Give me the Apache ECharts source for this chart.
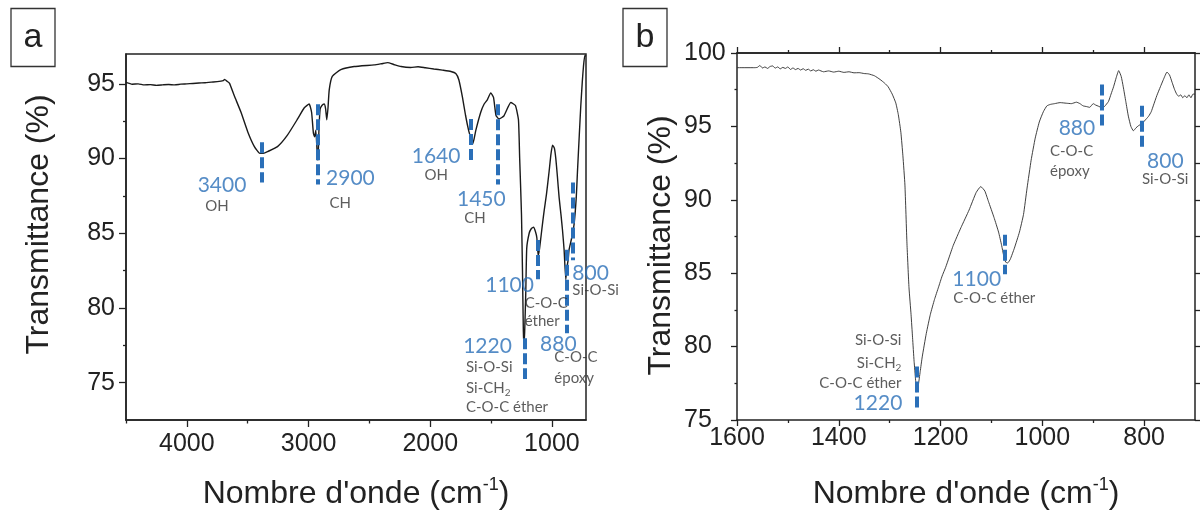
<!DOCTYPE html>
<html>
<head>
<meta charset="utf-8">
<script src="https://cdn.jsdelivr.net/npm/echarts@6.0.0/dist/echarts.min.js"></script>
<style>
html, body { margin: 0; padding: 0; background: #fff; }
#main { width: 1204px; height: 517px; }
</style>
</head>
<body>
<div id="main"></div>
<script>
// spectre a : 4500 - 720 cm-1
const wnA = [4500, 4450, 4400, 4350, 4300, 4250, 4200, 4150, 4100, 4050, 4000, 3950, 3900, 3850, 3800, 3750, 3700, 3690, 3670, 3650,
  3610, 3555, 3500, 3445, 3400, 3370, 3335, 3255, 3175, 3090, 3035, 2995, 2975, 2960, 2950, 2940, 2928, 2922, 2915, 2905,
  2890, 2872, 2860, 2850, 2840, 2830, 2805, 2735, 2625, 2460, 2400, 2350, 2300, 2240, 2160, 2100, 2040, 1970, 1900, 1830,
  1790, 1765, 1735, 1710, 1685, 1665, 1653, 1640, 1625, 1585, 1557, 1530, 1503, 1480, 1460, 1435, 1395, 1338, 1300, 1275,
  1265, 1258, 1250, 1242, 1235, 1230, 1224, 1215, 1207, 1187, 1170, 1151, 1135, 1124, 1113, 1103, 1091, 1075, 1064, 1045,
  1023, 1008, 995, 980, 968, 955, 941, 925, 913, 900, 886, 875, 867, 859, 840, 818, 800, 790, 775, 763,
  750, 741, 730, 720];
const tA = [95.10, 94.98, 95.00, 94.93, 94.95, 94.90, 94.93, 94.96, 94.93, 94.98, 95.00, 95.03, 95.06, 95.08, 95.12, 95.15, 95.22, 95.30, 95.18, 95.05,
  94.20, 93.10, 91.80, 90.80, 90.35, 90.35, 90.47, 90.80, 91.55, 92.65, 93.40, 93.65, 93.10, 91.70, 91.45, 91.90, 90.20, 89.90, 91.80, 93.30,
  93.55, 93.65, 93.35, 92.60, 93.40, 94.60, 95.50, 95.95, 96.16, 96.27, 96.35, 96.42, 96.30, 96.16, 96.10, 96.15, 96.08, 96.00, 95.92, 95.83,
  95.70, 95.28, 94.10, 92.90, 91.90, 91.30, 90.95, 91.30, 91.90, 93.10, 93.65, 93.95, 94.40, 94.10, 92.90, 92.65, 92.85, 93.75, 93.55, 92.60,
  90.00, 88.30, 86.20, 82.50, 78.50, 77.60, 78.40, 81.00, 84.00, 85.00, 85.30, 85.40, 85.10, 84.70, 83.50, 83.90, 84.70, 85.80, 86.50, 87.60,
  89.15, 90.30, 90.90, 90.70, 90.00, 88.80, 87.40, 86.20, 85.20, 83.90, 81.90, 82.80, 83.20, 83.90, 84.60, 85.60, 87.40, 89.15, 91.60, 93.50,
  95.20, 96.15, 96.90, 96.85];

// spectre b : zoom 1600 - 700 cm-1
const wnB = [1600, 1565, 1560, 1555, 1550, 1545, 1540, 1535, 1530, 1525, 1520, 1515, 1510, 1505, 1500, 1495, 1490, 1485, 1480, 1475,
  1470, 1465, 1460, 1455, 1450, 1445, 1440, 1430, 1420, 1410, 1400, 1390, 1380, 1370, 1360, 1350, 1342, 1330, 1319, 1310,
  1303, 1295, 1288, 1283, 1278, 1274, 1270, 1266, 1262, 1258, 1255, 1252, 1249, 1247, 1244, 1240, 1236, 1228, 1220, 1212,
  1204, 1197, 1190, 1183, 1175, 1160, 1144, 1130, 1121, 1113, 1106, 1095, 1086, 1080, 1076, 1072, 1068, 1063, 1055, 1045,
  1037, 1030, 1022, 1014, 1006, 998, 991, 984, 976, 965, 953, 943, 933, 926, 920, 913, 907, 900, 895, 890,
  883, 878, 870, 865, 860, 855, 850, 845, 841, 836, 831, 826, 821, 816, 811, 804, 796, 791, 786, 782,
  775, 768, 762, 755, 750, 745, 740, 736, 732, 728, 724, 720, 716, 712, 708, 704, 700];
const tB = [99.00, 99.00, 99.02, 99.15, 98.98, 99.05, 98.95, 99.08, 99.12, 98.97, 99.05, 98.92, 99.02, 98.95, 99.05, 98.88, 98.98, 98.87, 98.95, 98.84,
  98.93, 98.82, 98.90, 98.78, 98.86, 98.76, 98.84, 98.72, 98.78, 98.70, 98.76, 98.68, 98.72, 98.65, 98.66, 98.60, 98.58, 98.45, 98.20, 97.95,
  97.70, 97.20, 96.60, 95.80, 94.60, 93.00, 91.00, 87.00, 84.00, 82.20, 80.60, 79.00, 77.70, 76.90, 77.30, 78.30, 79.30, 80.90, 82.20, 83.20,
  84.05, 84.80, 85.40, 86.10, 86.90, 88.10, 89.30, 90.50, 90.90, 90.60, 89.90, 88.80, 87.80, 86.90, 86.20, 85.75, 85.70, 85.95, 86.70, 87.80,
  89.00, 90.80, 92.70, 94.20, 95.30, 96.00, 96.40, 96.50, 96.55, 96.62, 96.58, 96.55, 96.65, 96.55, 96.40, 96.35, 96.30, 96.55, 96.45, 96.38,
  96.27, 96.35, 96.70, 97.20, 97.70, 98.30, 98.80, 98.40, 97.70, 96.70, 95.70, 95.00, 94.70, 94.90, 95.05, 95.20, 95.50, 95.70, 96.00, 96.40,
  97.10, 97.70, 98.20, 98.70, 98.50, 98.00, 97.50, 97.20, 97.05, 97.15, 96.95, 97.10, 96.95, 97.15, 96.95, 97.20, 97.20];

// graduations
const majorAX = [1000, 2000, 3000, 4000];
const minorAX = [1500, 2500, 3500, 4500];
const majorAY = [75, 80, 85, 90, 95];
const minorAY = [77.5, 82.5, 87.5, 92.5];
const majorBX = [800, 1000, 1200, 1400, 1600];
const minorBX = [900, 1100, 1300, 1500];
const majorBY = [75, 80, 85, 90, 95, 100];
const minorBY = [77.5, 82.5, 87.5, 92.5, 97.5];
const rightBY = [75, 77.5, 80, 82.5, 85, 87.5, 90, 92.5, 95, 97.5, 100];

// repères en pointillés : [nombre d'onde, haut, bas]
const marksA = [[3386, 91.1, 88.4], [2921, 93.64, 88.27], [1667, 92.65, 89.9], [1447, 93.64, 88.27],
  [1223, 77.98, 75.24], [1118, 84.55, 81.93], [880, 83.9, 78.31], [831, 88.4, 83.2]];
const marksB = [[1247.6, 78.64, 75.76], [1073.8, 87.62, 84.93], [882.6, 97.86, 95.05], [804, 96.4, 93.6]];

// étiquettes : [texte, nombre d'onde, T, alignement, type]
const labelsA = [
  ['3400', 3707, 88.17, 'center', 'num'],
  ['OH', 3748, 86.81, 'center', 'txt'],
  ['2900', 2652, 88.65, 'center', 'num'],
  ['CH', 2735, 87.0, 'center', 'txt'],
  ['1640', 1948, 90.14, 'center', 'num'],
  ['OH', 1946, 88.88, 'center', 'txt'],
  ['1450', 1576, 87.23, 'center', 'num'],
  ['CH', 1629, 85.97, 'center', 'txt'],
  ['1100', 1344, 81.48, 'center', 'num'],
  ['C-O-C', 1220, 80.30, 'left', 'txt'],
  ['éther', 1220, 79.05, 'left', 'txt'],
  ['1220', 1525, 77.38, 'center', 'num'],
  ['Si-O-Si', 1702, 76.01, 'left', 'txt'],
  ['Si-CH{sub|2}', 1702, 74.59, 'left', 'txt'],
  ['C-O-C éther', 1702, 73.34, 'left', 'txt'],
  ['880', 943, 77.54, 'center', 'num'],
  ['C-O-C', 976, 76.67, 'left', 'txt'],
  ['époxy', 976, 75.28, 'left', 'txt'],
  ['800', 828, 82.27, 'left', 'num'],
  ['Si-O-Si', 828, 81.16, 'left', 'txt']
];
const labelsB = [
  ['880', 931, 94.83, 'center', 'num'],
  ['C-O-C', 984, 93.3, 'left', 'txt'],
  ['époxy', 984, 91.93, 'left', 'txt'],
  ['800', 757.3, 92.6, 'center', 'num'],
  ['Si-O-Si', 757.7, 91.4, 'center', 'txt'],
  ['1100', 1128, 84.56, 'center', 'num'],
  ['C-O-C éther', 1174, 83.24, 'left', 'txt'],
  ['Si-O-Si', 1276, 80.41, 'right', 'txt'],
  ['Si-CH{sub|2}', 1276, 78.86, 'right', 'txt'],
  ['C-O-C éther', 1276, 77.48, 'right', 'txt'],
  ['1220', 1322, 76.08, 'center', 'num']
];

const axisCol = '#222';
const blue = '#2a6fb8';
const tickFont = { fontFamily: 'Liberation Sans', fontSize: 25, color: '#222', formatter: v => String(v) };
const nameStyle = {
  fontFamily: 'Liberation Sans', fontSize: 32, color: '#222', lineHeight: 36,
  rich: { sup: { fontFamily: 'Liberation Sans', fontSize: 18, lineHeight: 18, verticalAlign: 'top', color: '#222' } }
};
const numStyle = { fontFamily: 'Lato', fontSize: 21, color: blue, lineHeight: 24 };
const txtStyle = { fontFamily: 'Lato', fontSize: 15, color: '#333', lineHeight: 20 };

function pts(xs, ys) {
  return xs.map((x, i) => [x, ys[i]]);
}
function markData(list) {
  return list.map(m => [{ coord: [m[0], m[1]] }, { coord: [m[0], m[2]] }]);
}
function labelData(list) {
  return list.map(l => ({
    name: l[0],
    value: [l[1], l[2]],
    label: Object.assign({ align: l[3] }, l[4] === 'num' ? numStyle : txtStyle)
  }));
}

// axe "secondaire" qui ne sert qu'à dessiner des graduations
function tickAxis(grid, pos, min, max, values, len, inverse) {
  return {
    gridIndex: grid, type: 'value', position: pos, min: min, max: max, inverse: !!inverse,
    axisLine: { show: pos === 'top' || pos === 'right', onZero: false, lineStyle: { color: axisCol, width: 1.5 } },
    axisTick: { show: true, customValues: values, length: len, lineStyle: { color: axisCol, width: 1.3 } },
    axisLabel: { show: false },
    splitLine: { show: false }
  };
}

var myChart = echarts.init(document.getElementById('main'), null, { renderer: 'canvas' });

const options = {
  animation: false,
  grid: [
    { left: 126, top: 54, width: 460, height: 372, show: true, borderColor: axisCol, borderWidth: 1.5 },
    { left: 737, top: 53, width: 458, height: 370 }
  ],
  xAxis: [
    {
      gridIndex: 0, type: 'value', position: 'bottom', min: 720, max: 4500, inverse: true,
      axisLine: { onZero: false, lineStyle: { color: axisCol, width: 1.5 } },
      axisTick: { customValues: majorAX, length: 7, lineStyle: { color: axisCol, width: 1.3 } },
      axisLabel: Object.assign({ customValues: majorAX, margin: 12 }, tickFont),
      splitLine: { show: false },
      name: 'Nombre d\'onde (cm{sup|-1})', nameLocation: 'middle', nameGap: 56, nameTextStyle: nameStyle
    },
    tickAxis(0, 'bottom', 720, 4500, minorAX, 3.5, true),
    {
      gridIndex: 1, type: 'value', position: 'bottom', min: 700, max: 1600, inverse: true,
      axisLine: { onZero: false, lineStyle: { color: axisCol, width: 1.5 } },
      axisTick: { customValues: majorBX, length: 6, lineStyle: { color: axisCol, width: 1.3 } },
      axisLabel: Object.assign({ customValues: majorBX, margin: 6 }, tickFont),
      splitLine: { show: false },
      name: 'Nombre d\'onde (cm{sup|-1})', nameLocation: 'middle', nameGap: 56, nameTextStyle: nameStyle
    },
    tickAxis(1, 'bottom', 700, 1600, minorBX, 3, true),
    tickAxis(1, 'top', 700, 1600, majorBX, 6, true),
    tickAxis(1, 'top', 700, 1600, minorBX, 3, true)
  ],
  yAxis: [
    {
      gridIndex: 0, type: 'value', position: 'left', min: 72.5, max: 97,
      axisLine: { show: true, onZero: false, lineStyle: { color: axisCol, width: 1.5 } },
      axisTick: { show: true, customValues: majorAY, length: 7, lineStyle: { color: axisCol, width: 1.3 } },
      axisLabel: Object.assign({ customValues: majorAY, margin: 11 }, tickFont),
      splitLine: { show: false },
      name: 'Transmittance (%)', nameLocation: 'middle', nameRotate: 90, nameGap: 71,
      nameTextStyle: { fontFamily: 'Liberation Sans', fontSize: 32, color: '#222', padding: [0, 0, 0, 25] }
    },
    tickAxis(0, 'left', 72.5, 97, minorAY, 3),
    {
      gridIndex: 1, type: 'value', position: 'left', min: 75, max: 100,
      axisLine: { show: true, onZero: false, lineStyle: { color: axisCol, width: 1.5 } },
      axisTick: { show: true, customValues: majorBY, length: 6, lineStyle: { color: axisCol, width: 1.3 } },
      axisLabel: Object.assign({ customValues: majorBY, margin: 53, align: 'left' }, tickFont),
      splitLine: { show: false },
      name: 'Transmittance (%)', nameLocation: 'middle', nameRotate: 90, nameGap: 60,
      nameTextStyle: { fontFamily: 'Liberation Sans', fontSize: 32, color: '#222', padding: [0, 18, 0, 0] }
    },
    tickAxis(1, 'left', 75, 100, minorBY, 2.5),
    tickAxis(1, 'right', 75, 100, rightBY, 5)
  ],
  series: [
    {
      type: 'line', xAxisIndex: 0, yAxisIndex: 0,
      data: pts(wnA, tA), showSymbol: false, symbol: 'none', smooth: 0.15,
      lineStyle: { color: '#1a1a1a', width: 1.4 },
      markLine: {
        silent: true, symbol: ['none', 'none'], label: { show: false },
        lineStyle: { color: blue, width: 4, type: [11, 4] },
        data: markData(marksA)
      }
    },
    {
      type: 'line', xAxisIndex: 2, yAxisIndex: 2,
      data: pts(wnB, tB), showSymbol: false, symbol: 'none', smooth: 0.15,
      lineStyle: { color: '#2a2a2a', width: 0.9 },
      markLine: {
        silent: true, symbol: ['none', 'none'], label: { show: false },
        lineStyle: { color: blue, width: 4, type: [11, 4] },
        data: markData(marksB)
      }
    },
    {
      type: 'scatter', xAxisIndex: 0, yAxisIndex: 0, silent: true, z: 5,
      symbolSize: 1, itemStyle: { color: 'rgba(0,0,0,0)' },
      label: {
        show: true, position: [0, 0], verticalAlign: 'middle', formatter: '{b}',
        rich: { sub: { fontFamily: 'Lato', fontSize: 10, lineHeight: 10, verticalAlign: 'bottom', color: '#333' } }
      },
      data: labelData(labelsA)
    },
    {
      type: 'scatter', xAxisIndex: 2, yAxisIndex: 2, silent: true, z: 5,
      symbolSize: 1, itemStyle: { color: 'rgba(0,0,0,0)' },
      label: {
        show: true, position: [0, 0], verticalAlign: 'middle', formatter: '{b}',
        rich: { sub: { fontFamily: 'Lato', fontSize: 10, lineHeight: 10, verticalAlign: 'bottom', color: '#333' } }
      },
      data: labelData(labelsB)
    }
  ],
  // cadres "a" et "b"
  graphic: [
    { type: 'rect', shape: { x: 11, y: 8.5, width: 44, height: 58 }, style: { fill: '#fff', stroke: '#333', lineWidth: 1.3 } },
    { type: 'text', x: 33, y: 38, style: { text: 'a', font: '34px "Liberation Sans"', fill: '#222', align: 'center', verticalAlign: 'middle' } },
    { type: 'rect', shape: { x: 623, y: 8.5, width: 44, height: 58 }, style: { fill: '#fff', stroke: '#333', lineWidth: 1.3 } },
    { type: 'text', x: 645, y: 38, style: { text: 'b', font: '34px "Liberation Sans"', fill: '#222', align: 'center', verticalAlign: 'middle' } }
  ]
};
myChart.setOption(options);
</script>
</body>
</html>
